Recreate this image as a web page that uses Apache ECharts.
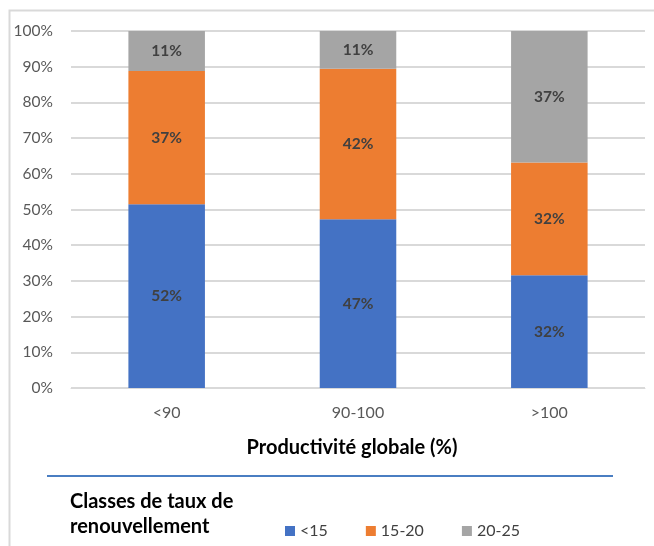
<!DOCTYPE html>
<html><head><meta charset="utf-8">
<script src="https://cdn.jsdelivr.net/npm/echarts@6/dist/echarts.min.js"></script>
<style>html,body{margin:0;padding:0;background:#fff}#c{width:654px;height:546px}</style>
</head><body><div id="c"></div>
<script>
const categories = ['<90', '90-100', '>100'];
const seriesNames = ['<15', '15-20', '20-25'];
const lt15 = [51.5, 47.3, 31.6];
const s15to20 = [37.3, 42.1, 31.6];
const s20to25 = [11.2, 10.6, 36.8];
const yTicks = [0, 10, 20, 30, 40, 50, 60, 70, 80, 90, 100];
const colors = ['#4472C4', '#ED7D31', '#A5A5A5'];
const FONT = 'Lato, "Noto Sans", sans-serif';

const chart = echarts.init(document.getElementById('c'), null, {renderer: 'canvas'});
const mk = (name, data, color) => ({
  name, type: 'bar', stack: 'total', data, barWidth: '40%',
  itemStyle: {color},
  label: {show: true, position: 'inside', formatter: p => Math.round(p.value) + '%',
    color: '#404040', fontWeight: 'bold', fontSize: 15.5, fontFamily: FONT}
});
chart.setOption({
  animation: false,
  textStyle: {fontFamily: FONT},
  grid: {left: 71, right: 9, top: 31, bottom: 158, containLabel: false},
  xAxis: {
    type: 'category', data: categories,
    axisLine: {lineStyle: {color: '#d9d9d9', width: 1}},
    axisTick: {show: false},
    axisLabel: {color: '#595959', fontSize: 16, margin: 17, fontFamily: FONT},
    name: 'Productivité globale (%)', nameLocation: 'middle', nameGap: 50,
    nameTextStyle: {color: '#000', fontWeight: 'bold', fontSize: 20, fontFamily: FONT, padding: [0, 12, 0, 0]}
  },
  yAxis: {
    type: 'value', min: yTicks[0], max: yTicks[yTicks.length - 1], interval: 10,
    axisLine: {show: false}, axisTick: {show: false},
    splitLine: {lineStyle: {color: '#d9d9d9', width: 2}},
    axisLabel: {color: '#595959', fontSize: 15.5, margin: 18, formatter: '{value}%', fontFamily: FONT}
  },
  legend: {
    left: 280, top: 518, itemWidth: 10, itemHeight: 10, itemGap: 38,
    icon: 'rect', data: seriesNames,
    textStyle: {color: '#404040', fontSize: 16, fontFamily: FONT}
  },
  graphic: [
    {type: 'rect', left: 7, top: 8, shape: {width: 700, height: 600}, style: {fill: 'none', stroke: '#d9d9d9', lineWidth: 2}, silent: true},
    {type: 'line', shape: {x1: 47, y1: 476, x2: 613, y2: 476}, style: {stroke: '#4A7EC2', lineWidth: 2}},
    {type: 'text', left: 70, top: 489, style: {text: 'Classes de taux de\nrenouvellement', fill: '#000', font: 'bold 20px ' + FONT, lineHeight: 25}}
  ],
  series: [
    mk(seriesNames[0], lt15, colors[0]),
    mk(seriesNames[1], s15to20, colors[1]),
    mk(seriesNames[2], s20to25, colors[2])
  ]
});
</script></body></html>
